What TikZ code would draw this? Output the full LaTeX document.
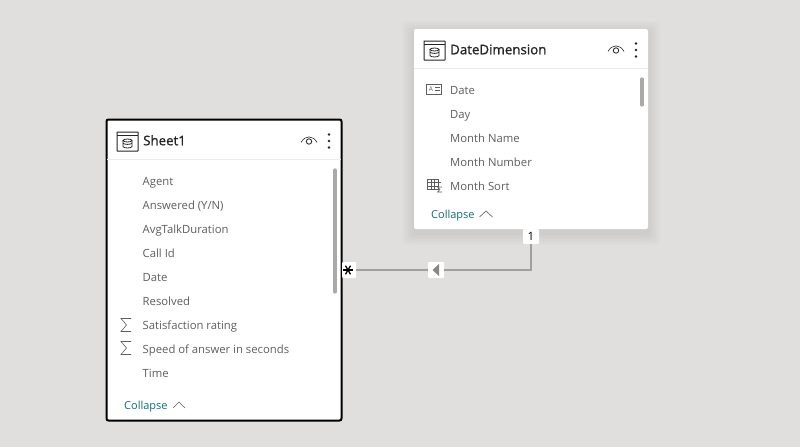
\documentclass[tikz,border=0pt]{standalone}
\usepackage{fontspec}
\setmainfont{Open Sans}
\usetikzlibrary{positioning,calc}
\definecolor{bgc}{HTML}{E1DFDD}
\definecolor{fieldc}{HTML}{605E5C}
\definecolor{titlec}{HTML}{252423}
\definecolor{linkc}{HTML}{0F6F73}
\definecolor{linec}{HTML}{A19F9D}
\definecolor{sepc}{HTML}{EDEBE9}
\definecolor{barc}{HTML}{ABA9A7}
\definecolor{arrowc}{HTML}{8A8886}
\tikzset{
 x=1pt,y=-1pt,
 fieldtext/.style={anchor=base west,inner sep=0pt,text=fieldc,font=\fontsize{11.3}{13}\selectfont},
 titletext/.style={anchor=base west,inner sep=0pt,text=titlec,font=\fontsize{13.3}{15}\selectfont},
 linktext/.style={anchor=base west,inner sep=0pt,text=linkc,font=\fontsize{11}{13}\selectfont},
 cardbox/.style={rectangle,rounded corners=2pt,fill=white,inner sep=0pt},
 badgebox/.style={rectangle,rounded corners=1pt,fill=white,inner sep=0pt,font=\fontsize{11.5}{12}\selectfont,text=black},
 iconline/.style={draw=fieldc,line width=0.55pt},
 reln/.style={draw=linec,line width=1.4pt},
 scrollbar/.style={draw=barc,line width=3.2pt,line cap=round},
}
\newfontfamily\titlefont[FakeBold=1]{Open Sans}
\newcommand{\tableicon}[2]{%
 \begin{scope}[shift={(#1,#2)}]
  \draw[line width=1pt,draw=titlec,rounded corners=.3pt] (-10.5,-9.5) rectangle (10.5,9.5);
  \draw[line width=1pt,draw=titlec] (-10.5,-6) -- (10.5,-6);
  \draw[line width=.8pt,draw=titlec] (-4.5,-1) -- (-4.5,5) arc[start angle=180,end angle=360,x radius=4.5,y radius=-1.5] -- (4.5,-1);
  \draw[line width=.8pt,draw=titlec] (0,-1) ellipse[x radius=4.5,y radius=1.5];
  \draw[line width=.8pt,draw=titlec] (-4.5,1.5) arc[start angle=180,end angle=360,x radius=4.5,y radius=-1.4];
 \end{scope}}
\newcommand{\eyeicon}[2]{%
 \begin{scope}[shift={(#1,#2)}]
  \draw[line width=.6pt,draw=titlec] (-8,2.5) .. controls (-4,-5) and (4,-5) .. (8,2.5);
  \draw[line width=.8pt,draw=titlec] (0,1.5) circle[radius=2.7];
 \end{scope}}
\newcommand{\dotsicon}[2]{%
 \fill[titlec] (#1,#2-6.5) circle[radius=1.3];
 \fill[titlec] (#1,#2) circle[radius=1.3];
 \fill[titlec] (#1,#2+6.5) circle[radius=1.3];}
\newcommand{\sumicon}[2]{%
 \draw[line width=.6pt,draw=fieldc] (#1+5,#2-6.5) -- (#1-5,#2-6.5) -- (#1+.5,#2) -- (#1-5,#2+6.5) -- (#1+5,#2+6.5);}
\begin{document}
\begin{tikzpicture}
\useasboundingbox (0,0) rectangle (800,447);
\fill[bgc] (0,0) rectangle (800,447);
% soft shadow of DateDimension
\foreach \i in {12,10,8,6,4,2}{
 \fill[black,opacity=.012,rounded corners=4pt] (414-\i,29-\i+4) rectangle (648+\i,229+\i+4);
}
\coordinate (bend) at (531,270);
\node[cardbox,minimum width=234pt,minimum height=200pt] (dd) at (531,129) {};
\node[cardbox,draw=black,line width=2pt,minimum width=235pt,minimum height=301pt] (sh) at (224,270) {};
\node[badgebox,minimum width=16pt,minimum height=15pt] (one) at (531,236.5) {1};
\node[badgebox,minimum width=16pt,minimum height=16pt] (dir) at (436,270) {};
\node[badgebox,minimum width=14pt,minimum height=16pt] (many) at (349,270) {};
\draw[reln] (one.south) -- (bend) -- (dir.east);
\draw[reln] (dir.west) -- (many.east);
\fill[arrowc] ($(dir.center)+(-3.5,0)$) -- ++(6.5,-6) -- ++(0,12) -- cycle;
\begin{scope}[shift={(348,270)}]
 \foreach \a in {0,60,120}{\draw[black,line width=1.3pt] (\a:-5) -- (\a:5);}
\end{scope}
% Sheet1
\tableicon{127.5}{141.5}
\node[titletext] (t1) at (143,145.3) {\titlefont Sheet1};
\eyeicon{309}{140}
\dotsicon{329}{141}
\draw[draw=sepc,line width=.7pt] (107,159.5) -- (341,159.5);
\draw[scrollbar] (335,170) -- (335,292);
\foreach \n/\y/\s in {a1/185/Agent,a2/209/{Answered (Y/N)},a3/233/AvgTalkDuration,a4/257/Call Id,a5/281/Date,a6/305/Resolved,a7/329/Satisfaction rating,a8/353/Speed of answer in seconds,a9/377/Time}{
 \node[fieldtext] (\n) at (142.5,\y) {\s};
}
\sumicon{126}{325}
\sumicon{126}{348}
\node[linktext] (c1) at (124,409) {Collapse};
\draw[draw=fieldc,line width=.6pt] (173,408) -- (179,402) -- (185,408);
% DateDimension
\tableicon{434.5}{50.5}
\node[titletext] (t2) at (450,54.3) {\titlefont DateDimension};
\eyeicon{616}{49}
\dotsicon{636}{50}
\draw[draw=sepc,line width=.7pt] (414,68.5) -- (648,68.5);
\draw[scrollbar] (642,79) -- (642,105);
\foreach \n/\y/\s in {b1/94/Date,b2/118/Day,b3/142/Month Name,b4/166/Month Number,b5/190/Month Sort}{
 \node[fieldtext] (\n) at (450,\y) {\s};
}
% key icon
\draw[iconline] (426.5,84) rectangle (441.5,94);
\node[inner sep=0pt,text=fieldc,font=\fontsize{6.5}{7}\selectfont] (keya) at (431,89) {A};
\draw[iconline] (435,87.5) -- (439.5,87.5) (435,90.5) -- (439.5,90.5);
% table sum icon
\draw[iconline] (427,179.5) rectangle (438,189.5);
\draw[iconline] (427,182.5) -- (441,182.5) (427,186) -- (438,186) (431,179.5) -- (431,189.5) (434.5,179.5) -- (434.5,189.5);
\draw[iconline] (442,187) -- (437.5,187) -- (440,189.5) -- (437.5,192) -- (442,192);
\node[linktext] (c2) at (431,218) {Collapse};
\draw[draw=fieldc,line width=.6pt] (479.5,217) -- (486,211) -- (492.5,217);
\end{tikzpicture}
\end{document}
